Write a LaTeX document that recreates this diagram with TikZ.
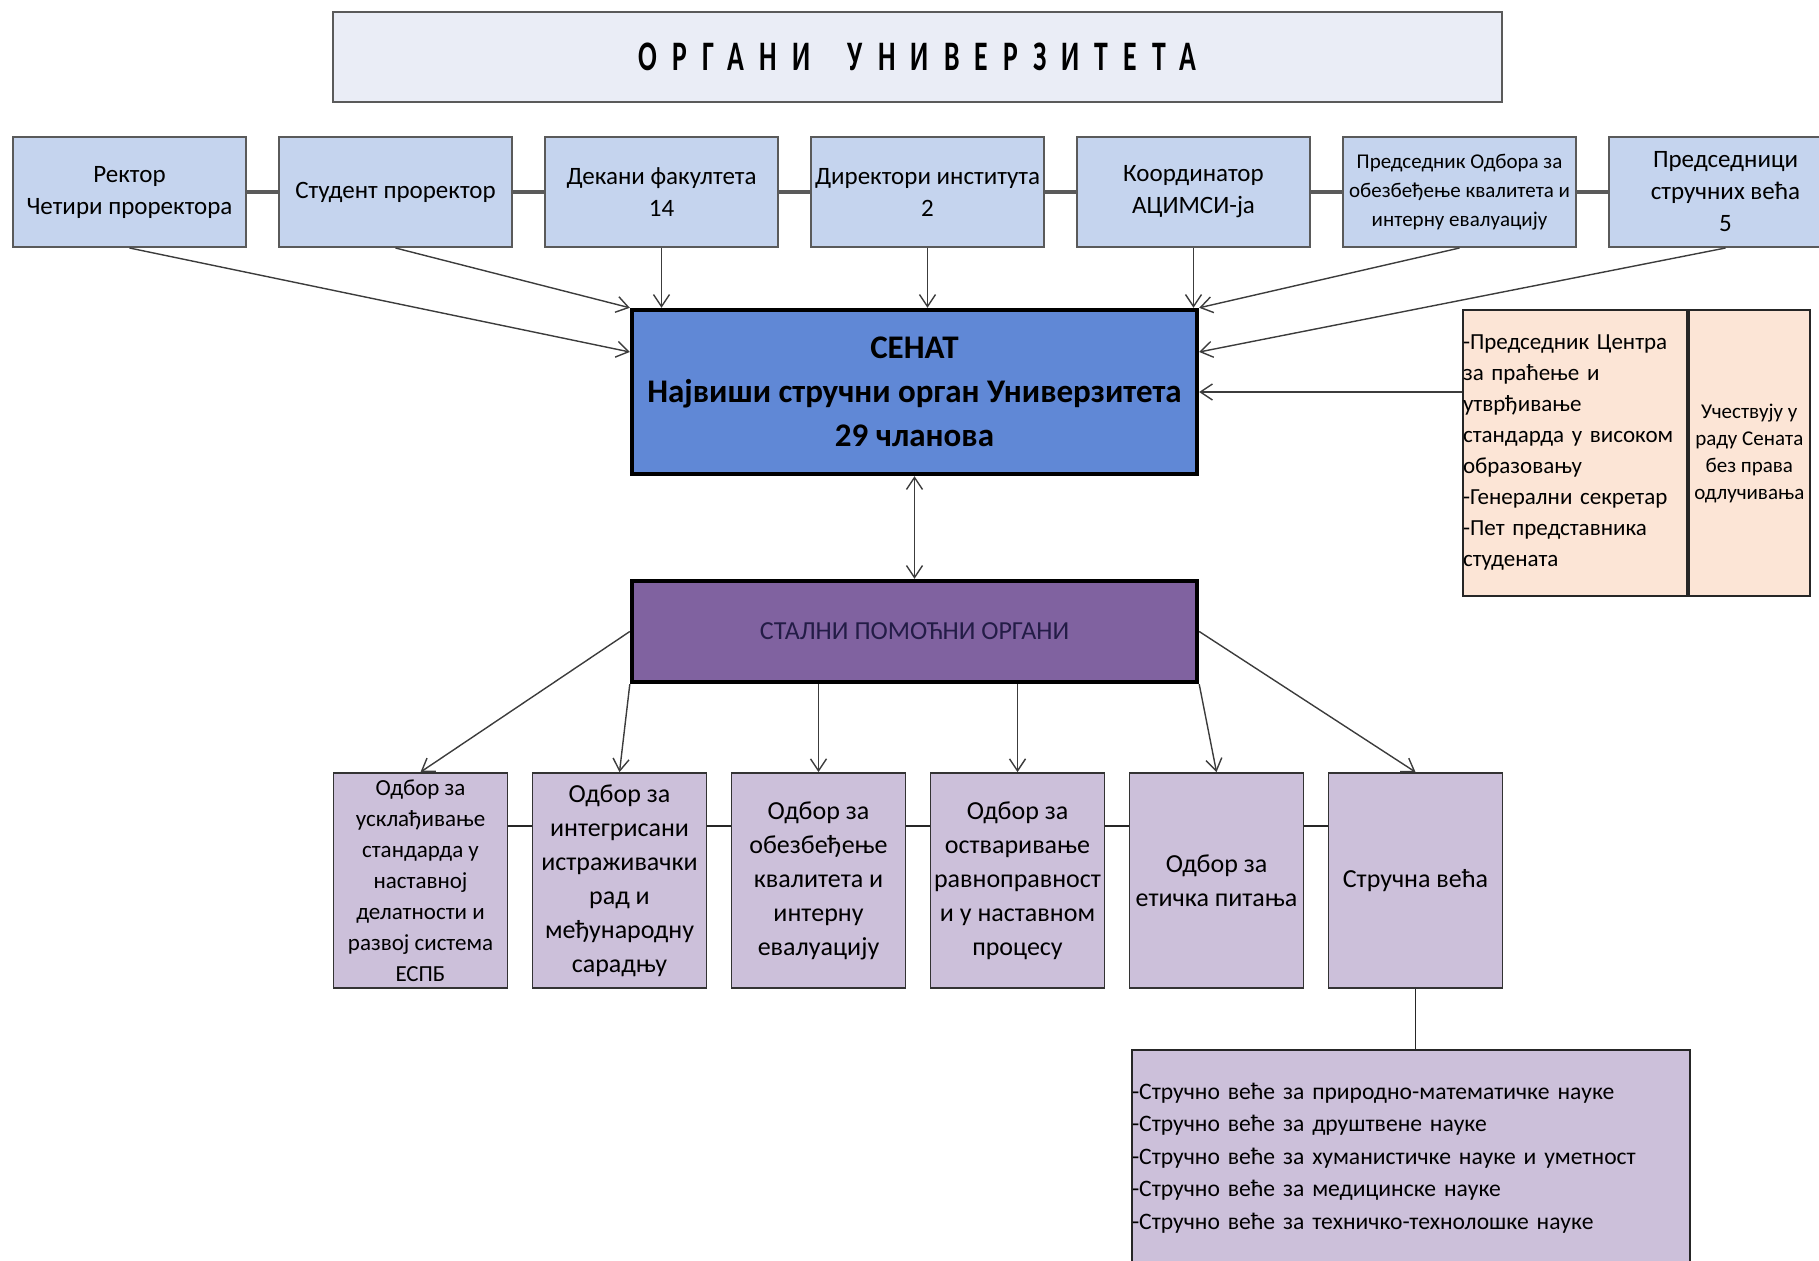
\documentclass[tikz,border=0pt]{standalone}
\usepackage{fontspec}
\setmainfont{Carlito}
\newfontfamily\titlefont[LetterSpace=36,FakeStretch=0.66]{Carlito}
\usetikzlibrary{positioning,arrows.meta}

\definecolor{titlefill}{RGB}{234,237,246}
\definecolor{topblue}{RGB}{197,212,238}
\definecolor{senatblue}{RGB}{96,136,214}
\definecolor{stalnipurple}{RGB}{128,98,160}
\definecolor{botlilac}{RGB}{204,192,218}
\definecolor{tblpeach}{RGB}{252,229,214}
\definecolor{linegray}{RGB}{90,90,90}
\definecolor{arrgray}{RGB}{60,60,60}
\definecolor{stalnitext}{RGB}{35,28,70}

\tikzset{
  box/.style={rectangle, draw, inner sep=0pt, align=center},
  titlebox/.style={box, draw=linegray, line width=1pt, fill=titlefill,
    minimum width=584.5pt, minimum height=45pt, font=\fontsize{21}{24}\selectfont},
  topbox/.style={box, draw=linegray, line width=1pt, fill=topblue,
    minimum width=116.5pt, minimum height=55pt, font=\fontsize{12.5}{16}\selectfont},
  topsmall/.style={topbox, font=\fontsize{10.5}{14.5}\selectfont},
  mainbox/.style={box, draw=black, line width=2.2pt,
    minimum width=282.5pt},
  botbox/.style={box, draw=black!80, line width=0.9pt, fill=botlilac,
    minimum width=87pt, minimum height=107.5pt, font=\fontsize{13}{17}\selectfont},
  botsmall/.style={botbox, font=\fontsize{11.5}{15.5}\selectfont},
  tblbox/.style={box, draw=black!85, line width=0.9pt, fill=tblpeach,
    minimum height=143pt},
  topline/.style={draw=linegray, line width=1.6pt},
  botline/.style={draw=black!85, line width=0.9pt},
  arr/.style={->, draw=arrgray, line width=0.7pt}
}

\begin{document}
\begin{tikzpicture}[x=0.5pt, y=-0.5pt, >={Straight Barb[length=6pt,width=8pt]}]
    \useasboundingbox (0,0) rectangle (1819,1261);
    \clip (0,0) rectangle (1819,1261);

    % Title
    \node[titlebox] (title) at (917.5,57) {\titlefont\bfseries ОРГАНИ\hspace*{0.9em}УНИВЕРЗИТЕТА};

    % Row of members of the Senate
    \foreach \i/\st/\txt in {0/topbox/{Ректор\\Четири проректора},
                             1/topbox/{Студент проректор},
                             2/topbox/{Декани факултета\\14},
                             3/topbox/{Директори института\\2},
                             4/topbox/{Координатор\\АЦИМСИ-ја},
                             5/topsmall/{Председник Одбора за\\обезбеђење квалитета и\\интерну евалуацију},
                             6/topbox/{Председници\\стручних већа\\5}} {
        \node[\st] (t\i) at (129.5+\i*266, 192) {\txt};
    }
    \foreach \i in {0,...,5} {
        \pgfmathtruncatemacro{\j}{\i+1}
        \draw[topline] (t\i) -- (t\j);
    }

    % Senate
    \node[mainbox, fill=senatblue, minimum height=82pt,
          font=\fontsize{16.5}{22}\selectfont\bfseries] (senat) at (914.5,392)
          {СЕНАТ\\Највиши стручни орган Универзитета\\29 чланова};

    % Members without the right to vote
    \node[tblbox, text width=112pt, align=left, font=\fontsize{11.5}{15.5}\selectfont]
          (tblL) at (1575,453)
          {-Председник Центра\\за праћење и\\утврђивање\\стандарда у високом\\образовању\\-Генерални секретар\\-Пет представника\\студената};
    \node[tblbox, minimum width=60.5pt, font=\fontsize{10.5}{13.5}\selectfont]
          (tblR) [right=0pt of tblL]
          {Учествују у\\раду Сената\\без права\\одлучивања};

    \draw[arr] (t0.south) -- (senat.172);
    \draw[arr] (t1.south) -- (senat.north west);
    \foreach \i in {2,3,4} {
        \draw[arr] (t\i.south) -- (t\i.south |- senat.north);
    }
    \draw[arr] (t5.south) -- (senat.north east);
    \draw[arr] (t6.south) -- (senat.8);
    \draw[arr] (senat.east -| tblL.west) -- (senat.east);

    % Standing auxiliary bodies
    \node[mainbox, fill=stalnipurple, minimum height=50.5pt,
          font=\fontsize{13}{16}\selectfont, text=stalnitext] (stalni) at (914.5,631.5)
          {СТАЛНИ ПОМОЋНИ ОРГАНИ};
    \draw[arr, <->] (senat.south) -- (stalni.north);

    % Committees
    \foreach \i/\st/\txt in {0/botsmall/{Одбор за\\усклађивање\\стандарда у\\наставној\\делатности и\\развој система\\ЕСПБ},
                             1/botbox/{Одбор за\\интегрисани\\истраживачки\\рад и\\међународну\\сарадњу},
                             2/botbox/{Одбор за\\обезбеђење\\квалитета и\\интерну\\евалуацију},
                             3/botbox/{Одбор за\\остваривање\\равноправност\\и у наставном\\процесу},
                             4/botbox/{Одбор за\\етичка питања},
                             5/botbox/{Стручна већа}} {
        \node[\st] (b\i) at (420.5+\i*199, 880.5) {\txt};
    }
    \foreach \i in {0,...,4} {
        \pgfmathtruncatemacro{\j}{\i+1}
        \draw[botline] ([yshift=-27pt]b\i.north east) -- ([yshift=-27pt]b\j.north west);
    }

    \draw[arr] (stalni.west) -- (b0.north);
    \draw[arr] (stalni.south west) -- (b1.north);
    \draw[arr] (b2.north |- stalni.south) -- (b2.north);
    \draw[arr] (b3.north |- stalni.south) -- (b3.north);
    \draw[arr] (stalni.south east) -- (b4.north);
    \draw[arr] (stalni.east) -- (b5.north);

    % Expert councils
    \node[box, draw=black!85, line width=0.9pt, fill=botlilac, text width=279pt, align=left,
          minimum height=108pt, font=\fontsize{11.8}{16.2}\selectfont] (list) at (1411,1158)
          {-Стручно веће за природно-математичке науке\\-Стручно веће за друштвене науке\\-Стручно веће за хуманистичке науке и уметност\\-Стручно веће за медицинске науке\\-Стручно веће за техничко-технолошке науке};
    \draw[botline] (b5.south) -- (b5.south |- list.north);
\end{tikzpicture}
\end{document}
